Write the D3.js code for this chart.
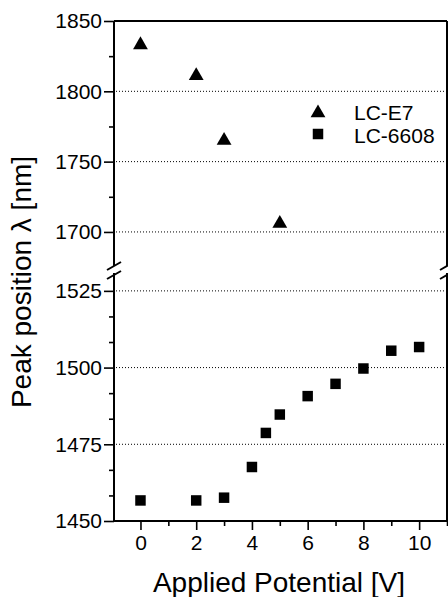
<!DOCTYPE html>
<html><head><meta charset="utf-8">
<script src="https://cdn.jsdelivr.net/npm/d3@7/dist/d3.min.js"></script>
<style>
html,body{margin:0;padding:0;background:#fff;}
text{font-family:"Liberation Sans",Arial,sans-serif;fill:#000;}
</style></head>
<body>
<svg id="chart" width="448" height="597"></svg>
<script>
// ---- data ----
const e7X = [0, 2, 3, 5];
const e7Y = [1833, 1811, 1765, 1706];
const lc6608X = [0, 2, 3, 4, 4.5, 5, 6, 7, 8, 9, 10];
const lc6608Y = [1456.7, 1456.7, 1457.6, 1467.6, 1478.7, 1484.7, 1490.7, 1494.7, 1499.7, 1505.5, 1506.7];
const xTicksMajor = [0, 2, 4, 6, 8, 10];
const xTicksMinor = [1, 3, 5, 7, 9, 11];
const yUpperMajor = [1700, 1750, 1800, 1850];
const yUpperMinor = [1725, 1775, 1825];
const yLowerMajor = [1450, 1475, 1500, 1525];
const yLowerMinor = [1458.33, 1466.67, 1483.33, 1491.67, 1508.33, 1516.67];
const gridUpper = [1700, 1750, 1800];
const gridLower = [1475, 1500, 1525];
const seriesNames = ["LC-E7", "LC-6608"];
const xTitle = "Applied Potential [V]";
const yTitle = "Peak position \u03bb [nm]";

(function () {
const svg = d3.select("#chart");
const pL = 114, pR = 447, pT = 21, pB = 521;
const upperBottom = 265, lowerTop = 274;

const x = d3.scaleLinear().domain([-0.95, 11]).range([pL, pR]);
const yU = d3.scaleLinear().domain([1676.5, 1850]).range([upperBottom, pT]);
const yL = d3.scaleLinear().domain([1450, 1530.5]).range([pB, lowerTop]);

// gridlines
const grid = svg.append("g").attr("stroke", "#000").attr("stroke-width", 1).attr("stroke-dasharray", "1,2");
gridUpper.forEach(v => grid.append("line").attr("x1", pL + 2).attr("x2", pR - 1).attr("y1", yU(v)).attr("y2", yU(v)));
gridLower.forEach(v => grid.append("line").attr("x1", pL + 2).attr("x2", pR - 1).attr("y1", yL(v)).attr("y2", yL(v)));

function styleAxis(g, fs) {
  g.select(".domain").remove();
  g.selectAll(".tick line").attr("stroke", "#000").attr("stroke-width", 1.6);
  g.selectAll(".tick text").attr("font-size", fs).attr("font-family", "Liberation Sans, Arial, sans-serif").attr("fill", "#000");
}
const fsTick = 21;
const gU = svg.append("g").attr("transform", `translate(${pL},0)`)
  .call(d3.axisLeft(yU).tickValues(yUpperMajor).tickSize(10).tickPadding(2).tickFormat(d3.format("d")));
styleAxis(gU, fsTick);
const gUm = svg.append("g").attr("transform", `translate(${pL},0)`)
  .call(d3.axisLeft(yU).tickValues(yUpperMinor).tickSize(5).tickFormat(""));
styleAxis(gUm, fsTick);
const gL = svg.append("g").attr("transform", `translate(${pL},0)`)
  .call(d3.axisLeft(yL).tickValues(yLowerMajor).tickSize(10).tickPadding(2).tickFormat(d3.format("d")));
styleAxis(gL, fsTick);
const gLm = svg.append("g").attr("transform", `translate(${pL},0)`)
  .call(d3.axisLeft(yL).tickValues(yLowerMinor).tickSize(5).tickFormat(""));
styleAxis(gLm, fsTick);
const gX = svg.append("g").attr("transform", `translate(0,${pB})`)
  .call(d3.axisBottom(x).tickValues(xTicksMajor).tickSize(9).tickPadding(5).tickFormat(d3.format("d")));
styleAxis(gX, fsTick);
const gXm = svg.append("g").attr("transform", `translate(0,${pB})`)
  .call(d3.axisBottom(x).tickValues(xTicksMinor).tickSize(5).tickFormat(""));
styleAxis(gXm, fsTick);

// frame
const frame = svg.append("g").attr("stroke", "#000").attr("stroke-width", 2).attr("fill", "none");
frame.append("line").attr("x1", pL).attr("x2", pR).attr("y1", pT).attr("y2", pT);
frame.append("line").attr("x1", pL).attr("x2", pR).attr("y1", pB).attr("y2", pB);
[pL, pR].forEach(xx => {
  frame.append("line").attr("x1", xx).attr("x2", xx).attr("y1", pT).attr("y2", upperBottom + 1);
  frame.append("line").attr("x1", xx).attr("x2", xx).attr("y1", lowerTop - 1).attr("y2", pB);
  frame.append("line").attr("x1", xx - 7).attr("x2", xx + 7).attr("y1", upperBottom + 5).attr("y2", upperBottom - 3);
  frame.append("line").attr("x1", xx - 7).attr("x2", xx + 7).attr("y1", lowerTop + 5).attr("y2", lowerTop - 3);
});

// markers
const tri = d3.symbol().type(d3.symbolTriangle).size(95);
const sq = d3.symbol().type(d3.symbolSquare).size(110);
svg.append("g").selectAll("path").data(e7X.map((v, i) => [v, e7Y[i]])).join("path")
  .attr("d", tri).attr("fill", "#000")
  .attr("transform", d => `translate(${x(d[0])},${yU(d[1])})`);
svg.append("g").selectAll("path").data(lc6608X.map((v, i) => [v, lc6608Y[i]])).join("path")
  .attr("d", sq).attr("fill", "#000")
  .attr("transform", d => `translate(${x(d[0])},${yL(d[1])})`);

// legend
const lg = svg.append("g");
lg.append("path").attr("d", tri).attr("fill", "#000").attr("transform", "translate(318,113)");
lg.append("path").attr("d", sq).attr("fill", "#000").attr("transform", "translate(318,134)");
lg.append("text").attr("x", 354).attr("y", 120).attr("font-size", 21).text(seriesNames[0]);
lg.append("text").attr("x", 354).attr("y", 143).attr("font-size", 21).text(seriesNames[1]);

// titles
svg.append("text").attr("x", 279).attr("y", 592).attr("text-anchor", "middle").attr("font-size", 28).text(xTitle);
svg.append("text").attr("transform", "translate(31,282) rotate(-90)").attr("text-anchor", "middle").attr("font-size", 28).text(yTitle);
})();
</script>
</body></html>
